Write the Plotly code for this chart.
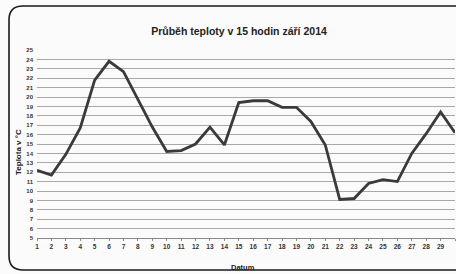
import plotly.graph_objects as go

days = list(range(1, 31))
temps = [12.2, 11.7, 13.9, 16.7, 21.8, 23.8, 22.7, 19.7, 16.8, 14.2,
         14.3, 15.0, 16.8, 14.9, 19.4, 19.6, 19.6, 18.9, 18.9, 17.4,
         14.9, 9.1, 9.2, 10.8, 11.2, 11.0, 14.0, 16.1, 18.4, 16.2]
y_ticks = list(range(5, 26))
x_ticks = days

W, H = 456, 274
L, R, T, B = 37, 1, 50, 36
pw = W - L - R
ph = H - T - B

def px(x):
    return (x - L) / pw

def py(y):
    return (H - B - y) / ph

font_fam = "Liberation Sans, Arial, sans-serif"

fig = go.Figure()
fig.add_trace(go.Scatter(
    x=days, y=temps, mode="lines",
    line=dict(color="#3a3a3a", width=2.8),
    showlegend=False, hoverinfo="skip", cliponaxis=False))

# rounded frame (pixel-based, converted to paper coords)
x0, x1, y0, y1 = 9, 475, 6, 270
rx, ry = 14, 14
path = (f"M {px(x0)},{py(y0 + ry)} "
        f"Q {px(x0)},{py(y0)} {px(x0 + rx)},{py(y0)} "
        f"L {px(x1 - rx)},{py(y0)} "
        f"Q {px(x1)},{py(y0)} {px(x1)},{py(y0 + ry)} "
        f"L {px(x1)},{py(y1 - ry)} "
        f"Q {px(x1)},{py(y1)} {px(x1 - rx)},{py(y1)} "
        f"L {px(x0 + rx)},{py(y1)} "
        f"Q {px(x0)},{py(y1)} {px(x0)},{py(y1 - ry)} Z")

fig.update_layout(
    width=W, height=H,
    margin=dict(l=L, r=R, t=T, b=B, autoexpand=False),
    paper_bgcolor="#fbfbfb", plot_bgcolor="rgba(0,0,0,0)",
    title=dict(text="<b>Průběh teploty v 15 hodin září 2014</b>",
               x=px(239), xref="paper", xanchor="center",
               y=1 - 31 / H, yref="container", yanchor="middle",
               font=dict(family=font_fam, size=10.5, color="#222")),
    xaxis=dict(range=[1, 30], tickvals=x_ticks,
               ticktext=[f"<b>{d}</b>" for d in x_ticks],
               showgrid=False, zeroline=False, showline=True, linecolor="#888",
               linewidth=1, ticks="outside", ticklen=2, tickcolor="#888",
               tickfont=dict(family=font_fam, size=6.5, color="#333"),
               automargin=False, fixedrange=True),
    yaxis=dict(range=[5, 25], tickvals=y_ticks,
               ticktext=[f"<b>{v}</b>" for v in y_ticks],
               showgrid=True, gridcolor="#a8a8a8", gridwidth=1, zeroline=False,
               showline=False, ticks="", ticklabelstandoff=3,
               tickfont=dict(family=font_fam, size=6, color="#333"),
               automargin=False, fixedrange=True),
    shapes=[dict(type="path", path=path, xref="paper", yref="paper",
                 line=dict(color="#1a1a1a", width=1.6), layer="above")],
    annotations=[
        dict(text="<b>Datum</b>", x=px(243), y=py(267), xref="paper", yref="paper",
             showarrow=False, font=dict(family=font_fam, size=7.5, color="#222"),
             xanchor="center", yanchor="middle"),
        dict(text="<b>Teplota v °C</b>", x=px(18), y=py(152), xref="paper", yref="paper",
             showarrow=False, textangle=-90,
             font=dict(family=font_fam, size=8, color="#222"),
             xanchor="center", yanchor="middle"),
    ],
)

fig.write_html("out.html", config={"displayModeBar": False},
               post_script="document.body.style.margin='0';document.body.style.padding='0';")
